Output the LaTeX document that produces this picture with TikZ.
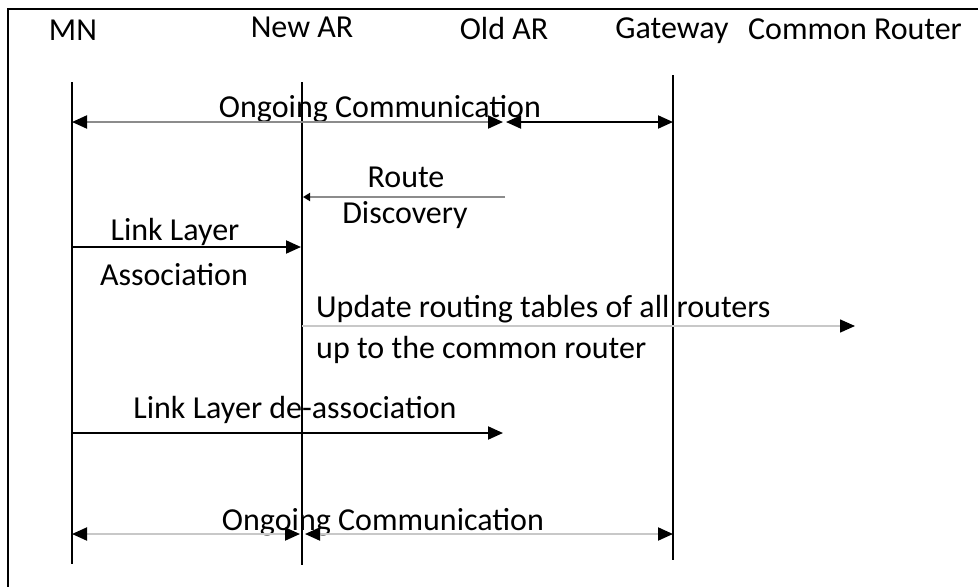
\documentclass[tikz,border=0pt]{standalone}
\usepackage{fontspec}
\setmainfont{Carlito}
\usetikzlibrary{arrows.meta, positioning}
\tikzstyle{actor} = [inner sep=0pt, anchor=base, font=\fontsize{32}{36}\selectfont]
\tikzstyle{msgtext} = [inner sep=0pt, anchor=base, font=\fontsize{32}{36}\selectfont]
\tikzstyle{lifeline} = [line width=2pt, draw=black]
\tikzstyle{border} = [line width=2.5pt, draw=black]
\tikzstyle{arrow} = [line width=2pt, -{Triangle[length=15pt, width=13pt, color=black]}]
\tikzstyle{twoway} = [line width=2pt, {Triangle[length=15pt, width=13pt, color=black]}-{Triangle[length=15pt, width=13pt, color=black]}]
\definecolor{lineGray}{RGB}{140,140,140}
\definecolor{lineLight}{RGB}{200,200,200}

\begin{document}
\begin{tikzpicture}[x=1pt, y=-1pt]

	\useasboundingbox (0,0) rectangle (978,587);

	% frame
	\coordinate (bTL) at (8,9);
	\coordinate (bTR) at (978,9);
	\coordinate (bBL) at (8,587);
	\draw[border] (bTR) -- (bTL) -- (bBL);

	% actors
	\node (hMN)[actor] at (73,40) {MN};
	\node (hNewAR)[actor] at (302,37) {New AR};
	\node (hOldAR)[actor] at (504,39) {Old AR};
	\node (hGateway)[actor] at (672,38) {Gateway};
	\node (hCommon)[actor] at (855,39) {Common Router};

	% lifelines
	\coordinate (mnTop) at (72,82);
	\coordinate (mnBot) at (72,564);
	\coordinate (newTop) at (302,82);
	\coordinate (newBot) at (302,565);
	\coordinate (gwTop) at (673,75);
	\coordinate (gwBot) at (673,560);
	\draw[lifeline] (mnTop) -- (mnBot);
	\draw[lifeline] (newTop) -- (newBot);
	\draw[lifeline] (gwTop) -- (gwBot);

	% message end points
	\coordinate (mnA) at (72,122);
	\coordinate (oldA1) at (503,122);
	\coordinate (oldA2) at (506,122);
	\coordinate (gwA) at (673,122);

	\coordinate (oldB) at (505,197);
	\coordinate (newB) at (303,197);

	\coordinate (mnC) at (72,247);
	\coordinate (newC) at (301,247);

	\coordinate (newD) at (302,326);
	\coordinate (commonD) at (855,326);

	\coordinate (mnE) at (72,433);
	\coordinate (oldE) at (503,433);

	\coordinate (mnF) at (72,534);
	\coordinate (newF1) at (300,534);
	\coordinate (newF2) at (305,534);
	\coordinate (gwF) at (673,534);

	% labels
	\node (tOngoingTop)[msgtext] at (380,117) {Ongoing Communication};
	\node (tRoute)[msgtext] at (406,187) {Route};
	\node (tDiscovery)[msgtext] at (405,223) {Discovery};
	\node (tLinkLayer)[msgtext] at (175,240) {Link Layer};
	\node (tAssoc)[msgtext] at (174,285) {Association};
	\node (tUpdate)[msgtext, anchor=base west] at (316,317) {Update routing tables of all routers};
	\node (tUpTo)[msgtext, anchor=base west] at (316,358) {up to the common router};
	\node (tDeassoc)[msgtext] at (295,418) {Link Layer de-association};
	\node (tOngoingBot)[msgtext] at (383,530) {Ongoing Communication};

	% lines and arrows
	\draw[twoway, draw=lineGray] (mnA) -- (oldA1);
	\draw[twoway] (oldA2) -- (gwA);

	\draw[line width=2pt, draw=lineGray, -{Triangle[length=7pt, width=8pt, color=black]}] (oldB) -- (newB);

	\draw[arrow] (mnC) -- (newC);

	\draw[arrow, line width=1.5pt, draw=lineLight] (newD) -- (commonD);

	\draw[arrow] (mnE) -- (oldE);

	\draw[twoway, draw=lineLight] (mnF) -- (newF1);
	\draw[twoway, draw=lineLight] (newF2) -- (gwF);

\end{tikzpicture}
\end{document}
